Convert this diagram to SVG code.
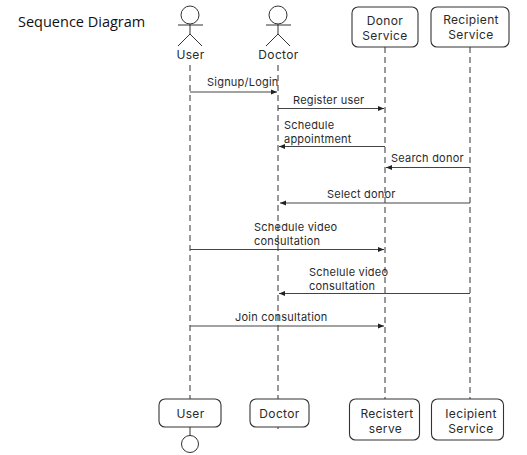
<svg xmlns="http://www.w3.org/2000/svg" width="527" height="455" viewBox="0 0 527 455">
<style>
text{font-family:"Inter","Liberation Sans",sans-serif;font-size:11px;letter-spacing:.22px;fill:#2a2a2a}
.c{text-anchor:middle}
.n{font-size:12px;letter-spacing:.35px}
.box{fill:#fff;stroke:#333;stroke-width:1.1}
.act{fill:none;stroke:#333;stroke-width:1}
.life{fill:none;stroke:#333;stroke-width:1;stroke-dasharray:6 4}
.msg{fill:none;stroke:#444;stroke-width:1;marker-end:url(#a)}
</style>
<defs><marker id="a" markerUnits="userSpaceOnUse" markerWidth="7" markerHeight="6" refX="6" refY="3" orient="auto"><path d="M0 .5L6 3L0 5.500z" fill="#222"/></marker></defs>
<rect width="527" height="455" fill="#fff"/>
<text id="title" x="18" y="27" style="font-family:'Open Sans','Liberation Sans',sans-serif;font-size:14.500px;letter-spacing:0;fill:#111">Sequence Diagram</text>
<g id="connectors">
<path class="life" d="M190 65V399M278 65V399M385 47V399M470 47V399"/>
<path d="M190 427V436M278 427V429" fill="none" stroke="#333"/>
<path class="msg" d="M190 92H277"/>
<path class="msg" d="M278 108.500H384"/>
<path class="msg" d="M385 146.500H279"/>
<path class="msg" d="M470 167.500H386"/>
<path class="msg" d="M470 203H280"/>
<path class="msg" d="M190 249.500H384"/>
<path class="msg" d="M470 293.500H279"/>
<path class="msg" d="M190 326H384"/>
</g>
<g id="labels">
<text x="207" y="86">Signup/Login</text>
<text x="293" y="104">Register user</text>
<text x="284" y="129.300">Schedule<tspan x="284" dy="13.500">appointment</tspan></text>
<text x="391" y="162">Search donor</text>
<text x="327" y="198">Select donor</text>
<text x="254" y="231.300">Schedule video<tspan x="254" dy="13.500">consultation</tspan></text>
<text x="309" y="276.300">Schelule video<tspan x="309" dy="13.500">consultation</tspan></text>
<text x="235" y="321">Join consultation</text>
</g>
<g id="actor-user"><circle class="act" cx="190" cy="15" r="9"/><path class="act" d="M178 25H203M190 24V34M178 46L190 34L202 46"/><text class="c n" x="190.500" y="59">User</text></g>
<g id="actor-doctor"><circle class="act" cx="278" cy="15" r="9"/><path class="act" d="M266 25H291M278 24V34M266 46L278 34L290 46"/><text class="c n" x="278.500" y="59">Doctor</text></g>
<g id="donor-service"><rect class="box" x="352" y="7" width="66" height="40" rx="6"/><text class="c n" x="385" y="25">Donor<tspan x="385" dy="14.700">Service</tspan></text></g>
<g id="recipient-service"><rect class="box" x="431" y="7" width="78" height="40" rx="6"/><text class="c n" x="471" y="24">Recipient<tspan x="471" dy="14.700">Service</tspan></text></g>
<g id="user-bottom"><rect class="box" x="159" y="399" width="62" height="28" rx="6"/><text class="c n" x="190.500" y="418">User</text></g>
<circle id="user-end" class="act" cx="190" cy="444" r="8.500"/>
<g id="doctor-bottom"><rect class="box" x="250" y="399" width="59" height="28" rx="6"/><text class="c n" x="279.500" y="418">Doctor</text></g>
<g id="recistert-serve"><rect class="box" x="349.500" y="399" width="70" height="41" rx="6"/><text class="c n" x="387" y="418">Recistert<tspan x="385.500" dy="14.700">serve</tspan></text></g>
<g id="iecipient-service"><rect class="box" x="431.500" y="399" width="72" height="41" rx="6"/><text class="c n" x="471" y="418">Iecipient<tspan x="471" dy="14.700">Service</tspan></text></g>
</svg>
